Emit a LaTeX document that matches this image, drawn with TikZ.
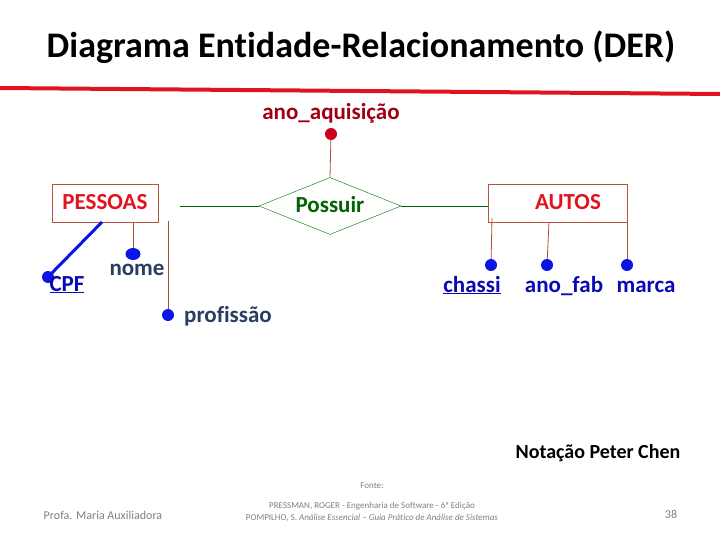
\documentclass[tikz,border=0pt]{standalone}
\usepackage{fontspec}
\setmainfont{Carlito}[Ligatures=NoCommon]
\usetikzlibrary{shapes.geometric}
\definecolor{entred}{HTML}{E0141E}
\definecolor{boxbrown}{HTML}{B4553C}
\definecolor{linkbrown}{HTML}{A0523C}
\definecolor{relgreen}{HTML}{006400}
\definecolor{darkred}{HTML}{A00014}
\definecolor{dotred}{HTML}{C8001E}
\definecolor{attblue}{HTML}{0A0AB4}
\definecolor{dotblue}{HTML}{0A14E6}
\definecolor{navy}{HTML}{283C64}
\definecolor{footgray}{HTML}{7F7F7F}
\tikzset{
  entity/.style={draw=boxbrown, line width=0.8pt, minimum width=106pt, minimum height=38pt, inner sep=0pt},
  rel/.style={draw=relgreen, diamond, aspect=2.5, minimum width=142pt, minimum height=57pt, inner sep=0pt},
  big/.style={inner sep=0pt, anchor=base, font=\fontsize{23}{26}\selectfont\bfseries},
  dotb/.style={circle, fill=dotblue, inner sep=0pt, minimum size=12pt},
  dotr/.style={circle, fill=dotred, inner sep=0pt, minimum size=12pt},
  attr/.style={big, text=attblue},
  link/.style={draw=linkbrown, line width=0.8pt},
  rlink/.style={draw=relgreen, line width=0.8pt},
  foot/.style={inner sep=0pt, anchor=base, text=footgray},
}
\begin{document}
\begin{tikzpicture}[x=1pt,y=-1pt]
\useasboundingbox (0,0) rectangle (720,540);
% title
\node[inner sep=0pt, anchor=base, font=\fontsize{36}{40}\selectfont\bfseries] (title) at (361,58) {Diagrama Entidade-Relacionamento (DER)};
\coordinate (rl1) at (0,88);
\coordinate (rl2) at (720,94);
\draw[line width=4pt, color=entred] (rl1) -- (rl2);
% relationship
\node[rel] (possuir) at (330,206) {};
\node[big, text=relgreen] (possuirtxt) at (330,213) {Possuir};
\node[attr, text=darkred] (anoaq) at (331,120) {ano\_aquisição};
\node[dotr] (anoaqdot) at (331,134) {};
\draw[link] (anoaqdot) -- (possuir.north);
% entities
\node[entity] (pessoas) at (105,203) {};
\node[big, text=entred] (pessoastxt) at (105,210) {PESSOAS};
\node[entity, minimum width=139pt] (autos) at (557.5,203) {};
\node[big, text=entred] (autostxt) at (568,210) {AUTOS};
\coordinate (pr) at (180,206);
\draw[rlink] (pr) -- (possuir.west);
\draw[rlink] (possuir.east) -- (possuir.east -| autos.west);
% PESSOAS attributes
\coordinate (cpfa) at (102,222);
\node[dotb] (cpfdot) at (48,277) {};
\node[attr] (cpf) at (67,291) {\underline{CPF}};
\draw[draw=dotblue, line width=3pt] (cpfa) -- (cpfdot.center);
\coordinate (nomea) at (133,222);
\node[dotb, ellipse, minimum width=15pt, minimum height=12pt] (nomedot) at (133,254) {};
\node[attr, text=navy] (nome) at (137,275) {nome};
\draw[link] (nomea) -- (nomedot);
\coordinate (profa) at (168,221);
\node[dotb] (profdot) at (168,315) {};
\node[attr, text=navy, anchor=base west] (prof) at (184,322) {profissão};
\draw[link] (profa) -- (profdot);
% AUTOS attributes
\coordinate (chassia) at (492,218);
\node[dotb] (chassidot) at (491,265) {};
\node[attr] (chassi) at (472,292) {\underline{chassi}};
\draw[link] (chassia) -- (chassidot);
\coordinate (anofaba) at (549,222);
\node[dotb] (anofabdot) at (547,265) {};
\node[attr] (anofab) at (564,292) {ano\_fab};
\draw[link] (anofaba) -- (anofabdot);
\coordinate (marcaa) at (627,222);
\node[dotb] (marcadot) at (627,265) {};
\node[attr] (marca) at (646,292) {marca};
\draw[link] (marcaa) -- (marcadot);
% notation
\node[inner sep=0pt, anchor=base, font=\fontsize{20}{24}\selectfont\bfseries] (notacao) at (598,458) {Notação Peter Chen};
% footer
\node[foot, font=\fontsize{12}{14}\selectfont] (autor) at (103,519) {Profa. Maria Auxiliadora};
\node[foot, font=\fontsize{9}{10}\selectfont] (fonte1) at (372,488) {Fonte:};
\node[foot, font=\fontsize{9}{10}\selectfont] (fonte2) at (372,508) {PRESSMAN, ROGER - Engenharia de Software - 6ª Edição};
\node[foot, font=\fontsize{9}{10}\selectfont] (fonte3) at (372,520) {POMPILHO, S. \textit{Análise Essencial – Guia Prático de Análise de Sistemas}};
\node[foot, font=\fontsize{12}{14}\selectfont] (page) at (671,518) {38};
\end{tikzpicture}
\end{document}
